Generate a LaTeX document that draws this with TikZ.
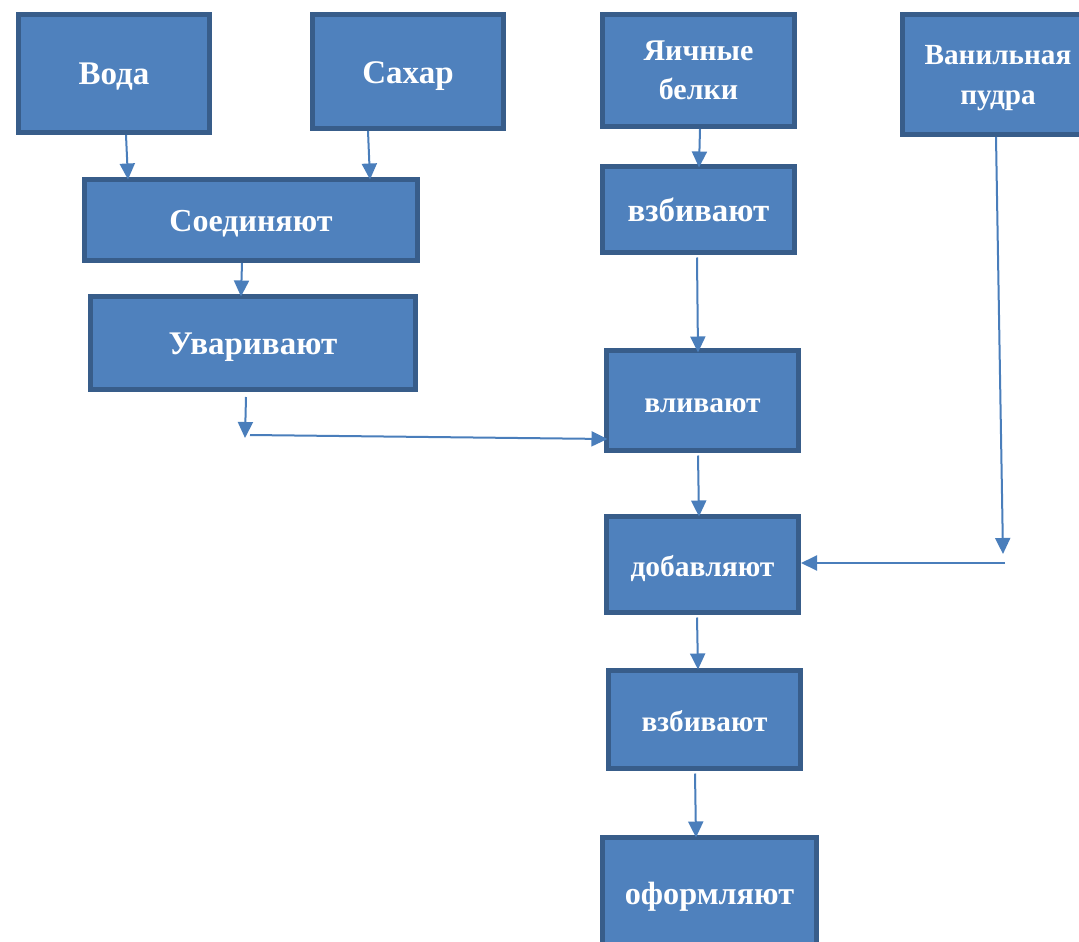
\documentclass[tikz,border=0pt]{standalone}
\usepackage{fontspec}
\setmainfont{Liberation Serif}
\usetikzlibrary{arrows.meta}
\definecolor{boxfill}{HTML}{4F81BD}
\definecolor{boxline}{HTML}{385D8A}
\definecolor{linkcol}{HTML}{4A7EBB}

\begin{document}
\begin{tikzpicture}[x=1pt,y=-1pt,
  procbox/.style={draw=boxline, fill=boxfill, line width=5pt, text=white, align=center, inner sep=0pt},
  oneline/.style={text height=#1, text depth=0pt},
  link/.style={draw=linkcol, line width=2pt, -{Triangle[length=16pt,width=15pt]}}]
\useasboundingbox (0,0) rectangle (1079,942);

% Ingredients on the top row
\node[procbox, oneline=22pt, minimum width=191pt, minimum height=118pt, font=\bfseries\fontsize{33}{40}\selectfont] (voda) at (114,73.5) {Вода};
\node[procbox, oneline=23pt, minimum width=191pt, minimum height=114pt, font=\bfseries\fontsize{33}{40}\selectfont] (sahar) at (408,71.5) {Сахар};
\node[procbox, minimum width=192pt, minimum height=112pt, font=\bfseries\fontsize{30}{39}\selectfont] (belki) at (698.5,70.5) {Яичные\\белки};
\node[procbox, text depth=0pt, minimum width=192pt, minimum height=120pt, font=\bfseries\fontsize{29.2}{40}\selectfont] (vanil) at (998,74.5) {Ванильная\\пудра};

% Syrup branch
\node[procbox, oneline=22.5pt, minimum width=333pt, minimum height=81pt, font=\bfseries\fontsize{32}{40}\selectfont] (soed) at (251,220) {Соединяют};
\node[procbox, oneline=22pt, minimum width=325pt, minimum height=93pt, font=\bfseries\fontsize{33}{40}\selectfont] (uvar) at (253,343) {Уваривают};

% Main column
\node[procbox, oneline=24pt, minimum width=192pt, minimum height=86pt, font=\bfseries\fontsize{33}{40}\selectfont] (vzbiv) at (698.5,209.5) {взбивают};
\node[procbox, oneline=23.5pt, minimum width=192pt, minimum height=100pt, font=\bfseries\fontsize{29.5}{40}\selectfont] (vliv) at (702.5,400.5) {вливают};
\node[procbox, oneline=23.5pt, minimum width=192pt, minimum height=96pt, font=\bfseries\fontsize{29.5}{40}\selectfont] (dobav) at (702.5,564.5) {добавляют};
\node[procbox, oneline=23.5pt, minimum width=192pt, minimum height=98pt, font=\bfseries\fontsize{29.3}{40}\selectfont] (vzbivb) at (704.5,719.5) {взбивают};
\node[procbox, oneline=23.5pt, minimum width=214pt, minimum height=111pt, font=\bfseries\fontsize{32.2}{40}\selectfont] (oform) at (709.5,893) {оформляют};

% Free ends of the broken connectors
\coordinate (syrupend) at (245,438);
\coordinate (syrupstart) at (250,435);
\coordinate (vanilend) at (1003,554);
\coordinate (vanilstart) at (1005,563);

% Connectors
\draw[link] ([xshift=12pt]voda.south) -- ([xshift=-123pt,yshift=-2.5pt]soed.north);
\draw[link] ([xshift=-40pt]sahar.south) -- ([xshift=119pt,yshift=-2.5pt]soed.north);
\draw[link] ([xshift=-9pt]soed.south) -- ([xshift=-12pt,yshift=-2.5pt]uvar.north);
\draw[link] ([xshift=-7pt,yshift=-5pt]uvar.south) -- (syrupend);
\draw[link] (syrupstart) -- ([xshift=3.5pt,yshift=-38.5pt]vliv.west);
\draw[link] ([xshift=1.5pt]belki.south) -- ([xshift=0.5pt,yshift=-3.5pt]vzbiv.north);
\draw[link] ([xshift=-1.5pt,yshift=-2.5pt]vzbiv.south) -- ([xshift=-4.5pt,yshift=-4.5pt]vliv.north);
\draw[link] ([xshift=-4.5pt,yshift=-2.5pt]vliv.south) -- ([xshift=-3.5pt,yshift=-2.5pt]dobav.north);
\draw[link] ([xshift=-2pt]vanil.south) -- (vanilend);
\draw[link] (vanilstart) -- ([yshift=1.5pt]dobav.east);
\draw[link] ([xshift=-5.5pt,yshift=-2.5pt]dobav.south) -- ([xshift=-6.5pt,yshift=-1.5pt]vzbivb.north);
\draw[link] ([xshift=-9.5pt,yshift=-2.5pt]vzbivb.south) -- ([xshift=-13.5pt,yshift=-2.5pt]oform.north);
\end{tikzpicture}
\end{document}
